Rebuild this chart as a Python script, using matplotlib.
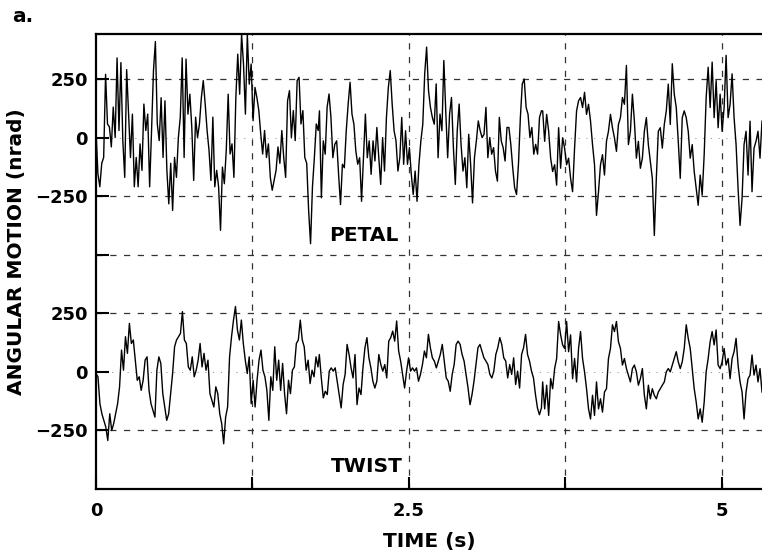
import numpy as np
import matplotlib
matplotlib.use("Agg")
import matplotlib.pyplot as plt

plt.rcParams['font.family'] = ['DejaVu Sans']
plt.rcParams['font.weight'] = 'bold'

# ---- data (nrad) ----
petal_seg1 = [30, -155, -210, -110, -85, 270, 58, 45, -40, 130, 0, 340, 30, 320, -13, -170, 290, 100, -85, 100,
              -210, -85, -210, -27, -140, 143, 30, 100, -210, 30, 285, 410, 58, -13, 170, -85, 157, -140, -283, -110,
              -311, -85, -170, 0, 87, 340, -85, 335, 100, 185, 45, -183, 87, 0, 58, 170, 243, 143, 30, -55,
              -183, 87, -210, -140, -210, -396, -126, -197, -55, 185, -70, -27, -170, 170, 356, 185, 440, 314, 100, 440,
              228, 314, 72, 214, 170, 115, 15, -70, 30, -85, -27, -170, -225, -183, -140, -40, -110, 30, -85, -170,
              157, 200, 0, 115, -13, 243, 257, 58, 115, -85, -110, -311, -453, -210, -85, 58, 30]
petal_seg2 = [114, -257, -14, -71, 129, 186, 86, -86, -29, -14, -157, -286, -114, -129, 29, 143, 236, 100, 57, -57,
              -114, -86, -272, -86, 100, -86, -14, -157, -14, -100, 43, -86, -200, 0, -143, 86, 214, 286, 143, 29,
              -14, -143, -86, 86, -114, 29, -114, -43, -157, -243, -143, -272, -114, -14, 57, 272, 386, 200, 129, 86,
              57, 229, -86, 100, 29, 329, 114, -86, 100, 171, -43, -200, 29, 143, -29, -143, -86, -214, 14, -114,
              -279, -86, -14, 71, 29, 0, 14, 129, -86, 0, -71, -43, -143, -186, 86, -14, -43, -100, 43, 43,
              -29, -129, -214, -243, -114, 86, 229, 250, 129, 100, 0, 43, -71, -29, -71, 86, 114]
petal_seg3 = [114, -16, 99, 27, -88, -145, -116, -203, 42, -131, -1, -45, -116, -88, -174, -231, -45, 114, 157, 171,
              128, 193, 99, 142, 70, -30, -116, -332, -231, -116, -73, -160, -16, 27, 99, 42, -1, -59, 56, 85,
              171, 142, 308, -30, 27, 185, 70, -88, -16, -131, -88, 27, 85, -30, -102, -174, -418, -174, 27, 42,
              -45, 56, 114, 228, 56, 315, 185, 128, -16, -174, 85, 114, 85, 27, -88, -30, -145, -217, -289, -160,
              -246, -73, 171, 300, 128, 322, 85, 243, 42, 185, 27, 128, 351, 85, 142, 272, 85, -30, -217, -375,
              -260, -30, 27, -160, 70, -231, -45, -16, 27, -88, 70]

twist_seg1 = [-7, -21, -136, -179, -207, -236, -293, -179, -250, -221, -179, -136, -64, 93, 7, 150, 79, 207, 121, 136,
              50, -36, -21, -79, -36, 50, 64, -79, -136, -164, -193, 7, 64, 36, -93, -150, -207, -179, -93, -7,
              107, 136, 150, 164, 257, 136, 121, 21, 7, 64, -21, 7, 50, 121, 21, 79, 7, 50, -93, -121,
              -150, -64, -93, -179, -221, -307, -193, -150, 64, 150, 221, 279, 179, 136, 221, 121, 50, -7, 64, -136,
              -36, -150, -36, 50, 93, 7, -21, -79, -207, -21, -79, 107, -36, 50, -79, 36, -93, -179, -36, -93,
              7, 21, 121, 136, 221, 136, 107, 7, 50, -50, 7, -21, 64, 21]
twist_seg2 = [74, -26, -111, -83, -97, 3, 17, 3, 17, -40, -97, -154, -54, -11, 117, 74, 17, -26, 74, -140,
              -69, -97, 17, 103, 146, 60, 17, -40, -69, -40, 74, 31, 3, 31, -26, 131, 146, 174, 131, 217,
              89, 46, -11, -69, 3, 60, 3, 17, 3, 17, -40, -11, 31, 89, 60, 160, 103, 60, 46, 17,
              46, 74, 117, 46, -26, -40, -83, -11, 31, 117, 131, 117, 74, 46, -11, -69, -140, -97, -40, 31,
              103, 117, 89, 60, 46, 31, -11, -26, 3, 74, 103, 146, 117, 60, 46, -26, 31, -11, 60, -54,
              3, -69, 74, 103, 160, 74, 46, 3, -26, -97, -154, -183, -154]
twist_seg3 = [-43, -158, -57, -186, -29, -72, 14, 57, 215, 158, 115, 100, 215, 86, 158, -29, 57, -43, 100, 172,
              57, 0, -72, -158, -201, -100, -186, -43, -158, -115, -172, -86, -72, 57, 100, 201, 172, 215, 129, 100,
              29, 57, 14, -14, -43, 14, 29, 0, -57, -29, 14, -100, -158, -57, -115, -72, -100, -115, -86, -72,
              -57, -43, 0, 14, 0, 29, 57, 86, 43, 14, 43, 100, 201, 143, 100, 14, -72, -129, -201, -158,
              -215, -129, 0, 57, 129, 172, 115, 179, 29, 14, 43, 100, 29, 57, -29, 57, 86, 143, 29, -43,
              -86, -201, -86, -29, -14, 72, -14, 29, -43, 14, -86]

petal_spans = [(0.0, 1.775), (1.785, 3.558), (3.568, 5.32)]
twist_spans = [(0.0, 1.773), (1.784, 3.558), (3.568, 5.32)]
petal_offset = 1000

ytick_pos = [-250, 0, 250, 500, 750, 1000, 1250]
ytick_labels = ['\u2212250', '0', '250', '', '\u2212250', '0', '250']
xtick_pos = [0, 1.25, 2.5, 3.75, 5]
xtick_labels = ['0', '', '2.5', '', '5']


def build(segs, spans):
    t = np.concatenate([np.linspace(a, b, len(s)) for s, (a, b) in zip(segs, spans)])
    v = np.concatenate([np.asarray(s, dtype=float) for s in segs])
    return t, v


t_p, v_p = build([petal_seg1, petal_seg2, petal_seg3], petal_spans)
t_t, v_t = build([twist_seg1, twist_seg2, twist_seg3], twist_spans)

fig = plt.figure(figsize=(7.62, 5.52), dpi=100)
ax = fig.add_axes([96 / 762, 1 - 489 / 552, 1 - 96 / 762, (489 - 34) / 552])

# grid lines
for y in [1250, 750, 500, 250, -250]:
    ax.axhline(y, color='#333333', lw=0.9, dashes=(5, 6), zorder=1)
for y in [1000, 0]:
    ax.axhline(y, color='#888888', lw=0.7, dashes=(1, 7), zorder=1)
for x in [1.25, 2.5, 3.75, 5]:
    ax.axvline(x, color='#333333', lw=0.9, dashes=(5, 6), zorder=1)

ax.plot(t_p, v_p + petal_offset, color='black', lw=1.0, zorder=2)
ax.plot(t_t, v_t, color='black', lw=1.0, zorder=2)

ax.set_xlim(0, 5.32)
ax.set_ylim(-500, 1442)

ax.set_yticks(ytick_pos)
ax.set_yticklabels(ytick_labels)
ax.set_xticks(xtick_pos)
ax.set_xticklabels(xtick_labels)
ax.tick_params(axis='both', direction='in', length=9, width=1.5, labelsize=13)
ax.tick_params(axis='y', pad=6)
ax.tick_params(axis='x', pad=9)

for s in ['top', 'left', 'bottom']:
    ax.spines[s].set_linewidth(1.6)
ax.spines['right'].set_visible(False)

ax.set_xlabel('TIME (s)', fontsize=14.5, fontweight='bold', labelpad=9)
fig.text(17 / 762, 1 - 252 / 552, 'ANGULAR MOTION (nrad)', rotation=90,
         ha='center', va='center', fontsize=14.5, fontweight='bold')
fig.text(12 / 762, 1 - 17 / 552, 'a.', ha='left', va='center', fontsize=14.5, fontweight='bold')

ax.text(2.14, 584, 'PETAL', ha='center', va='center', fontsize=14.5, fontweight='bold')
ax.text(2.16, -405, 'TWIST', ha='center', va='center', fontsize=14.5, fontweight='bold')

fig.savefig('out.png', dpi=100)
